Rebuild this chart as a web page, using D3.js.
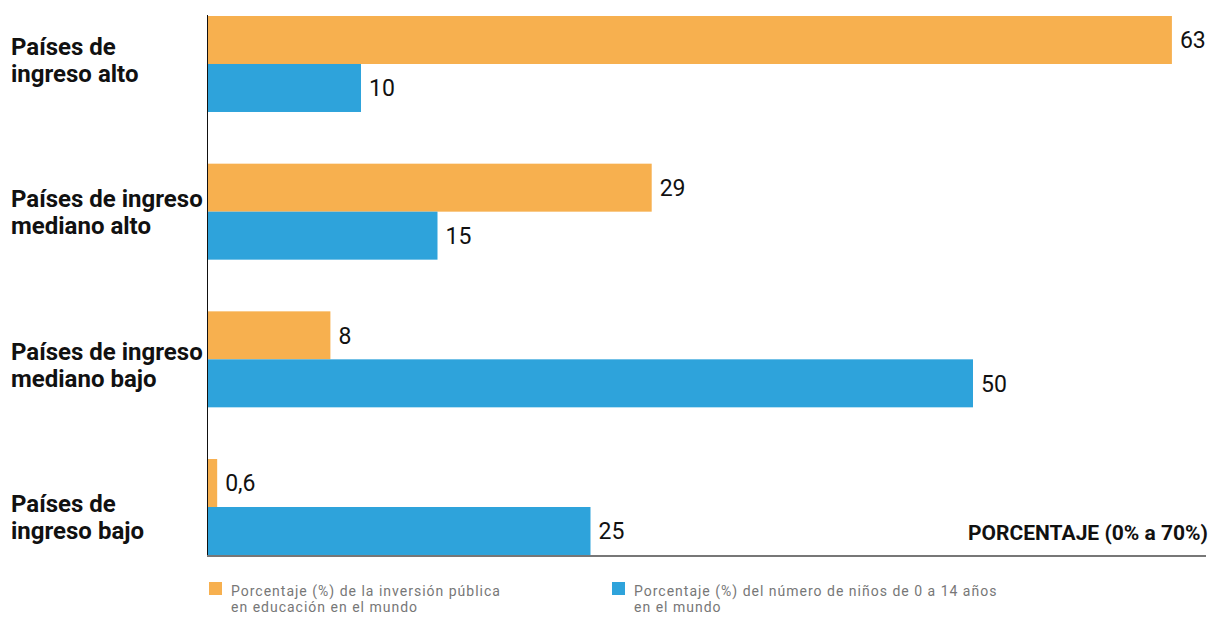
<!DOCTYPE html>
<html>
<head>
<meta charset="utf-8">
<script src="https://cdn.jsdelivr.net/npm/d3@7"></script>
<style>
  body { margin: 0; background: #fff; }
  svg { display: block; font-family: Roboto, sans-serif; }
</style>
</head>
<body>
<div id="chart"></div>
<script>
const categories = [
  ["Países de", "ingreso alto"],
  ["Países de ingreso", "mediano alto"],
  ["Países de ingreso", "mediano bajo"],
  ["Países de", "ingreso bajo"]
];
const inversion = [63, 29, 8, 0.6];
const ninos = [10, 15, 50, 25];
const valueLabels = [["63", "10"], ["29", "15"], ["8", "50"], ["0,6", "25"]];
const seriesNames = [
  ["Porcentaje (%) de la inversión pública", "en educación en el mundo"],
  ["Porcentaje (%) del número de niños de 0 a 14 años", "en el mundo"]
];
const colors = ["#f7b04f", "#2ea3db"];

const width = 1210;
const height = 618;
const margin = { top: 16, left: 208, bottom: 555 };

const svg = d3.select("#chart")
  .append("svg")
  .attr("width", width)
  .attr("height", height);

const x = d3.scaleLinear()
  .domain([0, 70])
  .range([margin.left, margin.left + 70 * 15.3]);

const ids = categories.map((d, i) => i);

const y = d3.scaleBand()
  .domain(ids)
  .range([margin.top, margin.bottom])
  .paddingInner(0.35)
  .paddingOuter(0);

const ySub = d3.scaleBand()
  .domain([0, 1])
  .range([0, y.bandwidth()]);

// category labels spread evenly down the left side
const yLab = d3.scalePoint()
  .domain(ids)
  .range([55, 512]);

// bars
ids.forEach(i => {
  [inversion[i], ninos[i]].forEach((v, s) => {
    const y0 = y(i) + ySub(s);
    svg.append("rect")
      .attr("x", x(0))
      .attr("y", y0)
      .attr("width", x(v) - x(0))
      .attr("height", ySub.bandwidth())
      .attr("fill", colors[s]);

    svg.append("text")
      .attr("x", x(v) + 8)
      .attr("y", y0 + ySub.bandwidth() / 2)
      .attr("dy", "0.36em")
      .attr("font-size", "23px")
      .attr("fill", "#111")
      .text(valueLabels[i][s]);
  });

  const lab = svg.append("text")
    .attr("x", 11)
    .attr("y", yLab(i))
    .attr("font-size", "24px")
    .attr("font-weight", "bold")
    .attr("fill", "#111");
  categories[i].forEach((line, k) => {
    lab.append("tspan")
      .attr("x", 11)
      .attr("dy", k === 0 ? 0 : 27)
      .text(line);
  });
});

// axes
svg.append("line")
  .attr("x1", margin.left - 0.5).attr("x2", margin.left - 0.5)
  .attr("y1", 15).attr("y2", 556)
  .attr("stroke", "#111")
  .attr("stroke-width", 1);

svg.append("line")
  .attr("x1", margin.left - 1).attr("x2", 1206)
  .attr("y1", 556).attr("y2", 556)
  .attr("stroke", "#777")
  .attr("stroke-width", 2);

svg.append("text")
  .attr("x", 1208)
  .attr("y", 540)
  .attr("text-anchor", "end")
  .attr("font-size", "21px")
  .attr("font-weight", "bold")
  .attr("fill", "#111")
  .text("PORCENTAJE (0% a 70%)");

// legend
const legendX = [209, 612];
seriesNames.forEach((lines, s) => {
  const g = svg.append("g")
    .attr("transform", `translate(${legendX[s]},582)`);
  g.append("rect")
    .attr("width", 13)
    .attr("height", 13)
    .attr("fill", colors[s]);
  const t = g.append("text")
    .attr("x", 22)
    .attr("y", 14)
    .attr("font-size", "14px")
    .attr("letter-spacing", "1px")
    .attr("fill", "#777");
  lines.forEach((line, k) => {
    t.append("tspan")
      .attr("x", 22)
      .attr("dy", k === 0 ? 0 : 16)
      .text(line);
  });
});
</script>
</body>
</html>
